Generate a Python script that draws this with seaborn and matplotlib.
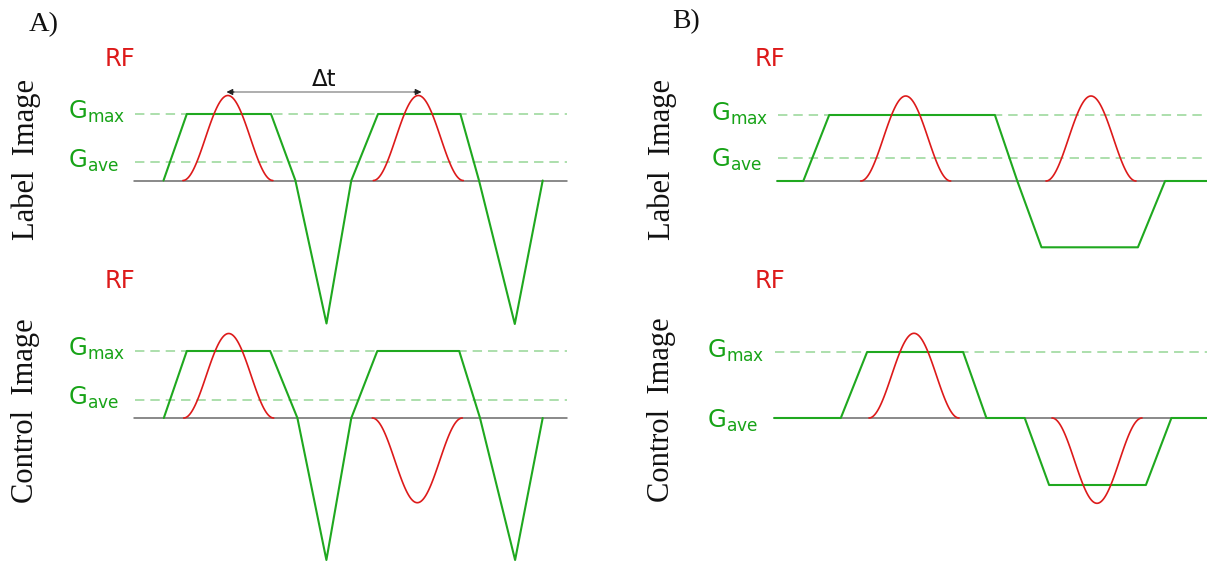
import numpy as np
import matplotlib
matplotlib.use("Agg")
import matplotlib.pyplot as plt
import seaborn as sns
import pandas as pd

sns.set_theme(style="white")
plt.rcParams['font.family'] = ['DejaVu Sans']
plt.rcParams['mathtext.default'] = 'regular'

# ---------------- data (pixel-space diagram coordinates) ----------------
# Panel A, label image: gradient waveform vertices (t, y)
A_label_grad_t = [163.5, 186.8, 271.0, 295.4, 326.5, 351.3, 378.0, 460.4, 479.0, 514.8, 542.7]
A_label_grad_y = [180.5, 114.0, 114.0, 180.5, 323.5, 180.5, 114.0, 114.0, 180.5, 324.0, 180.5]
# Panel A, control image
A_ctrl_grad_t = [163.8, 186.8, 270.2, 297.4, 326.4, 351.3, 377.3, 459.2, 480.0, 515.1, 542.7]
A_ctrl_grad_y = [418.0, 351.0, 351.0, 418.0, 560.0, 418.0, 351.0, 351.0, 418.0, 560.0, 418.0]
# Panel B, label image
B_label_grad_t = [777.3, 803.3, 829.2, 994.9, 1017.3, 1041.5, 1137.9, 1165.1, 1207.0]
B_label_grad_y = [181.0, 181.0, 115.0, 115.0, 181.0, 247.3, 247.3, 181.0, 181.0]
# Panel B, control image
B_ctrl_grad_t = [774.2, 840.8, 867.1, 963.1, 986.4, 1024.7, 1049.1, 1145.9, 1171.4, 1207.0]
B_ctrl_grad_y = [418.0, 418.0, 352.0, 352.0, 418.0, 418.0, 485.0, 485.0, 418.0, 418.0]

# RF pulses: centre and signed amplitude (baseline per panel)
A_label_rf_center = [227.9, 418.3]
A_label_rf_amp = [85.0, 85.0]
A_ctrl_rf_center = [228.7, 417.3]
A_ctrl_rf_amp = [84.5, -84.7]
B_label_rf_center = [905.7, 1091.0]
B_label_rf_amp = [85.0, 85.0]
B_ctrl_rf_center = [914.0, 1097.0]
B_ctrl_rf_amp = [84.7, -85.3]
rf_halfwidth = 45.0

# baselines, G_max / G_ave levels
baselines_y = [180.5, 418.0, 181.0, 418.0]
gmax_y = [114.0, 351.0, 115.0, 352.0]
gave_y = [162.0, 399.5, 158.0, None]

delta_t_label = "Δt"

# ---------------- figure ----------------
W, H = 1207, 562
fig = plt.figure(figsize=(W / 100, H / 100), dpi=100)
ax = fig.add_axes([0, 0, 1, 1])
ax.set_xlim(0, W)
ax.set_ylim(H, 0)
ax.axis("off")
fig.patch.set_facecolor("white")

GREEN = "#1fa81f"
LGREEN = "#a6dca6"
RED = "#dd1a1a"
GRAY = "#6a6a6a"
TXTGREEN = "#17a317"

panels = [
    dict(x0=134, x1=567, base=baselines_y[0], gmax=gmax_y[0], gave=gave_y[0]),
    dict(x0=134, x1=567, base=baselines_y[1], gmax=gmax_y[1], gave=gave_y[1]),
    dict(x0=777, x1=1207, base=baselines_y[2], gmax=gmax_y[2], gave=gave_y[2]),
    dict(x0=774, x1=1207, base=baselines_y[3], gmax=gmax_y[3], gave=gave_y[3]),
]
for p in panels:
    ax.plot([p["x0"], p["x1"]], [p["base"], p["base"]], color=GRAY, lw=1.1, zorder=1)
    ax.plot([p["x0"] + 1, p["x1"]], [p["gmax"], p["gmax"]], color=LGREEN, lw=1.3,
            dashes=(5.2, 3.3), zorder=1)
    if p["gave"] is not None:
        ax.plot([p["x0"] + 1, p["x1"]], [p["gave"], p["gave"]], color=LGREEN, lw=1.3,
                dashes=(5.2, 3.3), zorder=1)

# gradients
for t, y in [(A_label_grad_t, A_label_grad_y), (A_ctrl_grad_t, A_ctrl_grad_y),
             (B_label_grad_t, B_label_grad_y), (B_ctrl_grad_t, B_ctrl_grad_y)]:
    df = pd.DataFrame({"t": t, "y": y})
    sns.lineplot(data=df, x="t", y="y", sort=False, estimator=None, ax=ax,
                 color=GREEN, lw=1.5, zorder=3)

# RF pulses (raised-cosine envelope)
u = np.linspace(-1, 1, 121)
shape = 0.5 + 0.5 * np.cos(np.pi * u)
for centers, amps, base in [(A_label_rf_center, A_label_rf_amp, baselines_y[0]),
                            (A_ctrl_rf_center, A_ctrl_rf_amp, baselines_y[1]),
                            (B_label_rf_center, B_label_rf_amp, baselines_y[2]),
                            (B_ctrl_rf_center, B_ctrl_rf_amp, baselines_y[3])]:
    for c, a in zip(centers, amps):
        df = pd.DataFrame({"t": c + rf_halfwidth * u, "y": base - a * shape})
        sns.lineplot(data=df, x="t", y="y", sort=False, estimator=None, ax=ax,
                     color=RED, lw=1.2, zorder=4)

# delta t arrow: light gray shaft, dark heads
ax.plot([229, 419], [92, 92], color="#a8a8a8", lw=1.3, zorder=5)
for xa, xb in [(234, 226.5), (414, 421.5)]:
    ax.annotate("", xy=(xb, 92), xytext=(xa, 92),
                arrowprops=dict(arrowstyle="-|>", color="#222222", lw=0.8,
                                mutation_scale=9, shrinkA=0, shrinkB=0), zorder=6)
ax.text(324, 80, delta_t_label, fontsize=16.5, ha="center", va="center", color="#111111")

# text labels
serif = ['Liberation Serif', 'DejaVu Serif']
ax.text(29, 25, "A)", fontsize=20.5, family=serif, ha="left", va="center", color="#111111")
ax.text(672, 22, "B)", fontsize=20, family=serif, ha="left", va="center", color="#111111")

for x, y in [(105, 59), (105, 281), (755, 59), (755, 281)]:
    ax.text(x, y, "RF", fontsize=17.5, ha="left", va="center", color=RED)

ax.text(26, 159, "Label  Image", rotation=90, fontsize=22, family=serif,
        ha="center", va="center", color="#111111")
ax.text(26, 411, "Control  Image", rotation=90, fontsize=22, family=serif,
        ha="center", va="center", color="#111111")
ax.text(662, 159, "Label  Image", rotation=90, fontsize=22, family=serif,
        ha="center", va="center", color="#111111")
ax.text(661, 410, "Control  Image", rotation=90, fontsize=22, family=serif,
        ha="center", va="center", color="#111111")

glabels = [(68, 112, "max"), (68, 161, "ave"), (68, 349, "max"), (68, 398, "ave"),
           (711, 114, "max"), (711, 160, "ave"), (707, 351, "max"), (707, 421, "ave")]
for x, y, sub in glabels:
    ax.text(x, y, "G$_{%s}$" % sub, fontsize=17.5, ha="left", va="center", color=TXTGREEN)

fig.savefig("out.png", dpi=100, facecolor="white")
